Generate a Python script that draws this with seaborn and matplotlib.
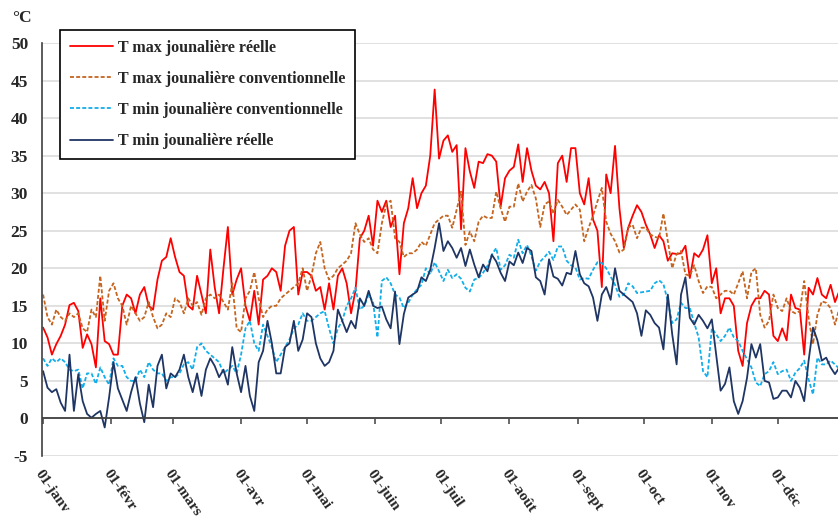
import numpy as np
import pandas as pd
import matplotlib
matplotlib.use("Agg")
import matplotlib.pyplot as plt
import seaborn as sns

# valeurs, un point tous les 2 jours (jour 0 = 01-janv)
tmax_reelle = [
    # janv
    12.1, 10.8, 8.5, 9.9, 11, 12.5, 15.1, 15.4, 14.3, 9.4, 11.2, 9.9, 6.8, 16, 10.3, 9.9,
    # févr
    8.5, 8.5, 15, 16.5, 16, 14, 16.5, 17.5, 15, 14.5, 18.5, 21, 21.5, 24,
    # mars
    21.5, 19.5, 19, 15, 14.5, 19, 16.5, 14, 22.5, 17.5, 14, 20, 25.5, 16.5, 18.5,
    # avr
    20, 15, 13, 17, 12.5, 18.5, 19, 20, 19.5, 17, 23, 25, 25.5, 16.5, 19.5,
    # mai
    19.5, 19, 17, 17.5, 14.5, 18, 14.5, 19, 20, 18, 14, 17, 24, 25, 27, 23,
    # juin
    29, 27.5, 29, 25.5, 27, 19.2, 26, 28, 32, 28, 30, 31, 35, 43.8, 34.6,
    # juil
    37, 37.7, 35.5, 36.4, 25.2, 36, 32.9, 30.7, 34.2, 34, 35.2, 35, 34.2, 28.2, 32,
    # août
    33, 33.5, 36.5, 31.5, 36, 33, 31, 30.5, 31.5, 30, 23.6, 34, 35, 31.5, 36, 36,
    # sept
    30, 28.5, 32, 26.5, 25, 17.5, 32.5, 30, 36.3, 28, 22.7, 25.4, 27, 28.4, 27.5,
    # oct
    25.8, 24.5, 22.7, 24.4, 23.6, 21, 22, 21.9, 22, 23, 18.7, 22, 21.5, 22.5, 24.4,
    # nov
    18, 20, 14, 16, 16, 15, 9, 7, 12.7, 15, 16, 16, 17, 16.5, 11,
    # déc
    10.3, 12, 10.4, 16.5, 14.7, 14.5, 8.5, 17.4, 16.5, 18.7, 16.5, 16, 17.8, 15.5, 17, 15,
]

tmax_conv = [
    16.5, 13.5, 12.5, 14.5, 13.5, 13, 14, 13.5, 14, 12, 11.5, 14.5, 13.5, 19, 13, 17,
    18, 16, 15, 12.5, 15, 14, 13, 13.5, 15.5, 13.5, 12, 12.5, 14, 13.5,
    16, 15.5, 14, 16, 15, 15.5, 13.8, 16, 16.5, 16, 16.5, 15.5, 14.5, 18, 12,
    11.5, 16, 17, 19.5, 16, 13.5, 14.5, 15, 15, 16, 16.5, 17, 17.5, 18, 20,
    17, 19, 22, 23.5, 20, 18.5, 19, 20, 20.5, 21, 22, 26, 24.5, 23.5, 24, 22.5,
    22, 26, 28.5, 29, 24, 23.5, 21.5, 22, 22, 22.5, 23.5, 23, 24.5, 26, 26.5,
    27, 27, 25.4, 27.8, 30.2, 23.1, 24.9, 23.6, 26.2, 27, 26.7, 26.7, 30.2, 28, 26.2,
    28.2, 28.2, 31.3, 28.9, 30.2, 31.1, 29.3, 25.5, 28.5, 28.9, 27.3, 29.1, 28.2, 27.1, 27.8, 28.5,
    27.8, 23.6, 25.4, 27, 28.9, 30.7, 26.2, 24.6, 23.6, 22.1, 22.5, 25.4, 25.8, 24, 25.4,
    25.4, 24.5, 24.2, 24, 27.3, 23.6, 20, 21.9, 22.3, 19.2, 19, 20.4, 18.3, 16.7, 17.6,
    17.5, 16, 16.5, 17, 17, 16.5, 18, 19.6, 16, 19.5, 20, 13.8, 12.1, 13, 16.5,
    14.7, 14.3, 16, 14.3, 14, 14.3, 18.3, 13.4, 9.9, 13.8, 15.6, 15.4, 14.7, 12.5, 14.7, 14.3,
]

tmin_conv = [
    8, 7, 8, 7.5, 8, 7.5, 6.5, 6.3, 6.5, 4, 6, 6, 4.6, 6.8, 5.5, 4.5,
    8, 7, 7, 5.5, 5, 5, 6.5, 5.5, 7.5, 6.5, 6, 6, 5, 5.5,
    5.5, 6, 7.2, 7.5, 6.5, 9.5, 10, 9, 8.5, 8, 7.5, 6, 6.5, 7, 6,
    8.5, 12, 13, 10, 9, 12.5, 11, 9.5, 7.5, 8.5, 9.5, 10.5, 12, 12.5, 14,
    13, 13, 13.5, 14, 14.3, 12, 10, 12, 13, 15, 16, 17.4, 14.5, 15, 16.5, 15.5,
    10.8, 18.3, 18.8, 18, 16.5, 16.1, 14.7, 15.4, 16.5, 17.2, 17.8, 20, 19.2, 20.8, 19.6,
    18.3, 19.8, 18.7, 19.2, 18.6, 17.4, 16.9, 18.5, 18.7, 19.4, 20.3, 21.8, 22.7, 19.8, 20.4,
    21.8, 21.4, 23.8, 22, 23.1, 21.6, 19.7, 20.9, 21.5, 22.2, 21.1, 22.9, 22.9, 21, 20.4, 20.1,
    18.5, 18.7, 18.6, 19.8, 20.8, 20.7, 20, 18.9, 17.8, 16.2, 16.5, 18, 17.6, 16.7, 16.8,
    16.9, 17, 18, 18.4, 17.9, 15.6, 12.7, 13.2, 15.4, 14.7, 14.7, 12.7, 10.8, 6.3, 5.5,
    12, 11.2, 10.3, 11, 12.1, 10.8, 10.3, 9, 7.9, 6.8, 4.8, 4.3, 5.9, 6.3, 7.5,
    5.9, 6.3, 6.5, 5, 6.1, 6.7, 7.7, 5.2, 3.2, 8.1, 7.2, 7.2, 7.7, 7.2, 6.6, 6.3,
]

tmin_reelle = [
    6.3, 4.1, 3.5, 3.9, 2.1, 1, 8.5, 1, 5.9, 2.3, 0.6, 0.1, 0.6, 1, -1.2, 2.8,
    7.5, 4, 2.5, 1, 3.5, 5.5, 2, -0.5, 4.5, 1.5, 7, 8.5, 4, 6,
    5.5, 6.5, 8.5, 5.5, 3.5, 6, 3, 6.5, 8, 7, 5.5, 6.5, 4.5, 9.5, 6,
    3.5, 7, 3, 1, 7.5, 9, 13, 10, 6, 6, 9.5, 10, 13, 9, 10.5,
    14, 13.5, 10, 8, 7, 7.5, 9, 14.5, 13, 11.5, 13, 12, 16, 15, 17, 15,
    14.7, 14.9, 13.2, 12, 16.9, 9.9, 13.9, 16.1, 16.5, 16.9, 18.8, 18.3, 19.8, 22.7, 26,
    22.3, 23.6, 22.7, 21.4, 22.7, 20.3, 22.5, 20.5, 18.8, 20.5, 19.6, 21.8, 20.9, 19.4, 18.3,
    20.9, 20.4, 22.1, 20.7, 22.7, 22.3, 18.8, 18.3, 16.5, 21.2, 18.9, 18.6, 17.7, 19.4, 19.2, 22.3,
    19.2, 18, 17.6, 16.1, 13, 16.5, 17.5, 15.8, 20, 17, 16.5, 16, 15.5, 14, 11,
    14.4, 13.8, 12.7, 12.1, 9.2, 16.5, 11.2, 7.2, 16.5, 18.8, 13.4, 12.5, 13.8, 13, 12,
    13.2, 8.5, 3.7, 4.6, 6.8, 2.3, 0.6, 2.3, 5.4, 9.9, 8.1, 9.9, 5, 4.8, 2.6,
    2.8, 3.7, 3.7, 2.8, 5, 4.1, 2.3, 7.7, 12.1, 10.4, 7.7, 8.1, 6.8, 5.9, 6.8, 6.8,
]

mois = ["01-janv", "01-févr", "01-mars", "01-avr", "01-mai", "01-juin",
        "01-juil", "01-août", "01-sept", "01-oct", "01-nov", "01-déc"]
debut_mois = [0, 31, 59, 90, 120, 151, 181, 212, 243, 273, 304, 334]

jours = np.arange(0, 365, 2)
df = pd.DataFrame({
    "jour": jours,
    "T max jounalière réelle": tmax_reelle,
    "T max jounalière conventionnelle": tmax_conv,
    "T min jounalière conventionnelle": tmin_conv,
    "T min jounalière réelle": tmin_reelle,
})

sns.set_style("white")
plt.rcParams["font.family"] = ["Liberation Serif", "DejaVu Serif"]
plt.rcParams["font.weight"] = "bold"
plt.rcParams["axes.unicode_minus"] = False

fig = plt.figure(figsize=(8.38, 5.17), dpi=100)
ax = fig.add_axes([42 / 838, 1 - 456 / 517, 1 - 42 / 838, 413 / 517])

styles = [
    ("T max jounalière réelle", "#ff0000", "-"),
    ("T max jounalière conventionnelle", "#c5651f", (0, (2.2, 1.2))),
    ("T min jounalière conventionnelle", "#12aeea", (0, (2.2, 1.2))),
    ("T min jounalière réelle", "#1f3564", "-"),
]
for nom, couleur, ls in styles:
    sns.lineplot(data=df, x="jour", y=nom, ax=ax, color=couleur,
                 linestyle=ls, linewidth=1.3, label=nom)

ax.set_xlim(-0.5, (838 - 43) / 2.2)
ax.set_ylim(-5, 50)
ax.set_yticks(np.arange(-5, 51, 5))
ax.grid(axis="y", color="#d9d9d9", linewidth=1.1)
ax.set_axisbelow(True)
ax.set_xlabel("")
ax.set_ylabel("")

for side in ["top", "right", "bottom"]:
    ax.spines[side].set_visible(False)
ax.spines["left"].set_color("#404040")
ax.spines["left"].set_linewidth(1.2)

ax.set_xticks(debut_mois)
ax.set_xticklabels(mois, rotation=-55, ha="left", va="top",
                   rotation_mode="anchor", fontsize=11, fontweight="bold")
ax.tick_params(axis="x", length=0, pad=8)
ax.tick_params(axis="y", length=0, labelsize=12.5, pad=10)
for t in ax.get_yticklabels():
    t.set_fontweight("bold")

# axe horizontal au niveau 0 avec graduations
ax.axhline(0, color="#404040", linewidth=1.3, zorder=3)
sec = ax.secondary_xaxis(5 / 55)
sec.set_xticks(debut_mois)
sec.set_xticklabels([])
sec.tick_params(axis="x", direction="out", length=4, width=1.1, color="#404040")
sec.spines["bottom"].set_visible(False)

fig.text(12 / 838, 1 - 18 / 517, "°C", fontsize=12.5, fontweight="bold",
         va="center", ha="left")

leg = ax.legend(loc="upper left", bbox_to_anchor=(60 / 838, 1 - 30 / 517),
                bbox_transform=fig.transFigure, frameon=True, fancybox=False,
                edgecolor="black", fontsize=11.5, handlelength=2.7,
                labelspacing=0.95, borderpad=0.6, handletextpad=0.35,
                borderaxespad=0)
leg.get_frame().set_linewidth(1.2)
leg.get_frame().set_facecolor("white")
leg.get_frame().set_alpha(1)
for t in leg.get_texts():
    t.set_fontweight("bold")

fig.savefig("out.png", dpi=100)
